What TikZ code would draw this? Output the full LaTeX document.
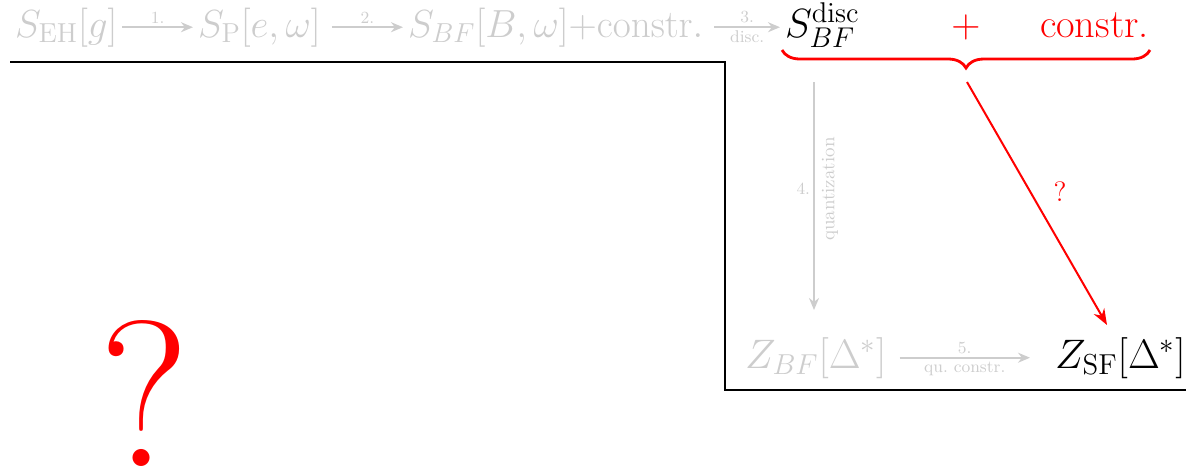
\RequirePackage{fix-cm}
\documentclass[tikz,border=0pt]{standalone}
\usetikzlibrary{arrows.meta,decorations.pathreplacing,calc}
\definecolor{lg}{RGB}{205,205,205}
\begin{document}
\begin{tikzpicture}[x=0.5pt,y=-0.5pt,
  mtext/.style={inner xsep=2.5pt,inner ysep=1pt,outer sep=0pt,font=\fontsize{20.6}{24}\selectfont},
  gtext/.style={mtext,text=lg},
  ttext/.style={gtext,font=\fontsize{19.6}{23}\selectfont},
  btext/.style={mtext,text=black},
  rtext/.style={mtext,text=red,font=\fontsize{20.2}{24}\selectfont},
  garr/.style={draw=lg,line width=0.9pt,-{Stealth[length=6pt,width=5pt]}},
  rarr/.style={draw=red,line width=1pt,-{Stealth[length=8pt,width=6pt]}},
  lab/.style={text=lg,font=\fontsize{8.5}{9.5}\selectfont,inner sep=1.5pt},
  frame/.style={draw=black,line width=0.6pt},
]
\useasboundingbox (0,0) rectangle (1188,473);
% top row
\node[ttext,anchor=base west] (seh) at (10,37) {$S_{\mathrm{EH}}[g]$};
\node[ttext,anchor=base west] (sp) at (193,37) {$S_{\mathrm{P}}[e,\omega]$};
\node[ttext,anchor=base west] (sbf) at (403,37) {$S_{BF}[B,\omega]{+}\mathrm{constr.}$};
\node[btext,anchor=base west,font=\fontsize{20.4}{24}\selectfont] (sdisc) at (780,37) {$S_{BF}^{\mathrm{disc}}$};
\node[rtext,anchor=base] (plus) at (966,37) {$+$};
\node[rtext,anchor=base west] (constr) at (1035,37) {constr.};
\draw[garr] (seh.east) -- node[lab,above]{1.} (sp.west);
\draw[garr] ([xshift=3pt]sp.east) -- node[lab,above]{2.} (sbf.west);
\draw[garr] ([xshift=3pt]sbf.east) -- node[lab,above]{3.} node[lab,below]{disc.} (sdisc.west |- sbf.east);
% brace
\coordinate (bl) at (782,50);
\coordinate (br) at (1150,50);
\draw[red,line width=1.4pt,decorate,decoration={brace,mirror,amplitude=9pt}] (bl) -- (br);
\coordinate (btip) at (967,82);
% bottom row
\node[gtext,anchor=base west] (zbf) at (740,368) {$Z_{BF}[\Delta^*]$};
\node[btext,anchor=base west] (zsf) at (1050,368) {$Z_{\mathrm{SF}}[\Delta^*]$};
\draw[garr] ([xshift=4pt]zbf.east) -- node[lab,above]{5.} node[lab,below]{qu.\ constr.} ([xshift=-10pt]zsf.west);
% vertical arrow
\coordinate (vtop) at (814,82);
\coordinate (vbot) at (814,310);
\draw[garr] (vtop) -- node[lab,left,pos=0.47]{4.} node[lab,pos=0.47,rotate=90,below,font=\fontsize{9.5}{11}\selectfont,yshift=-2pt]{quantization} (vbot);
% red arrow
\coordinate (rend) at (1107,325);
\draw[rarr] (btip) -- node[red,font=\fontsize{14}{16}\selectfont,right,pos=0.45,xshift=8pt]{?} (rend);
% frame line
\coordinate (f1) at (10,62);
\coordinate (f2) at (725,62);
\coordinate (f3) at (725,390);
\coordinate (f4) at (1186,390);
\draw[frame] (f1) -- (f2) -- (f3) -- (f4);
% big question mark
\node[text=red,font=\fontsize{104}{104}\selectfont,inner sep=0pt,anchor=base] (bigq) at (145,466) {?};
\end{tikzpicture}
\end{document}
